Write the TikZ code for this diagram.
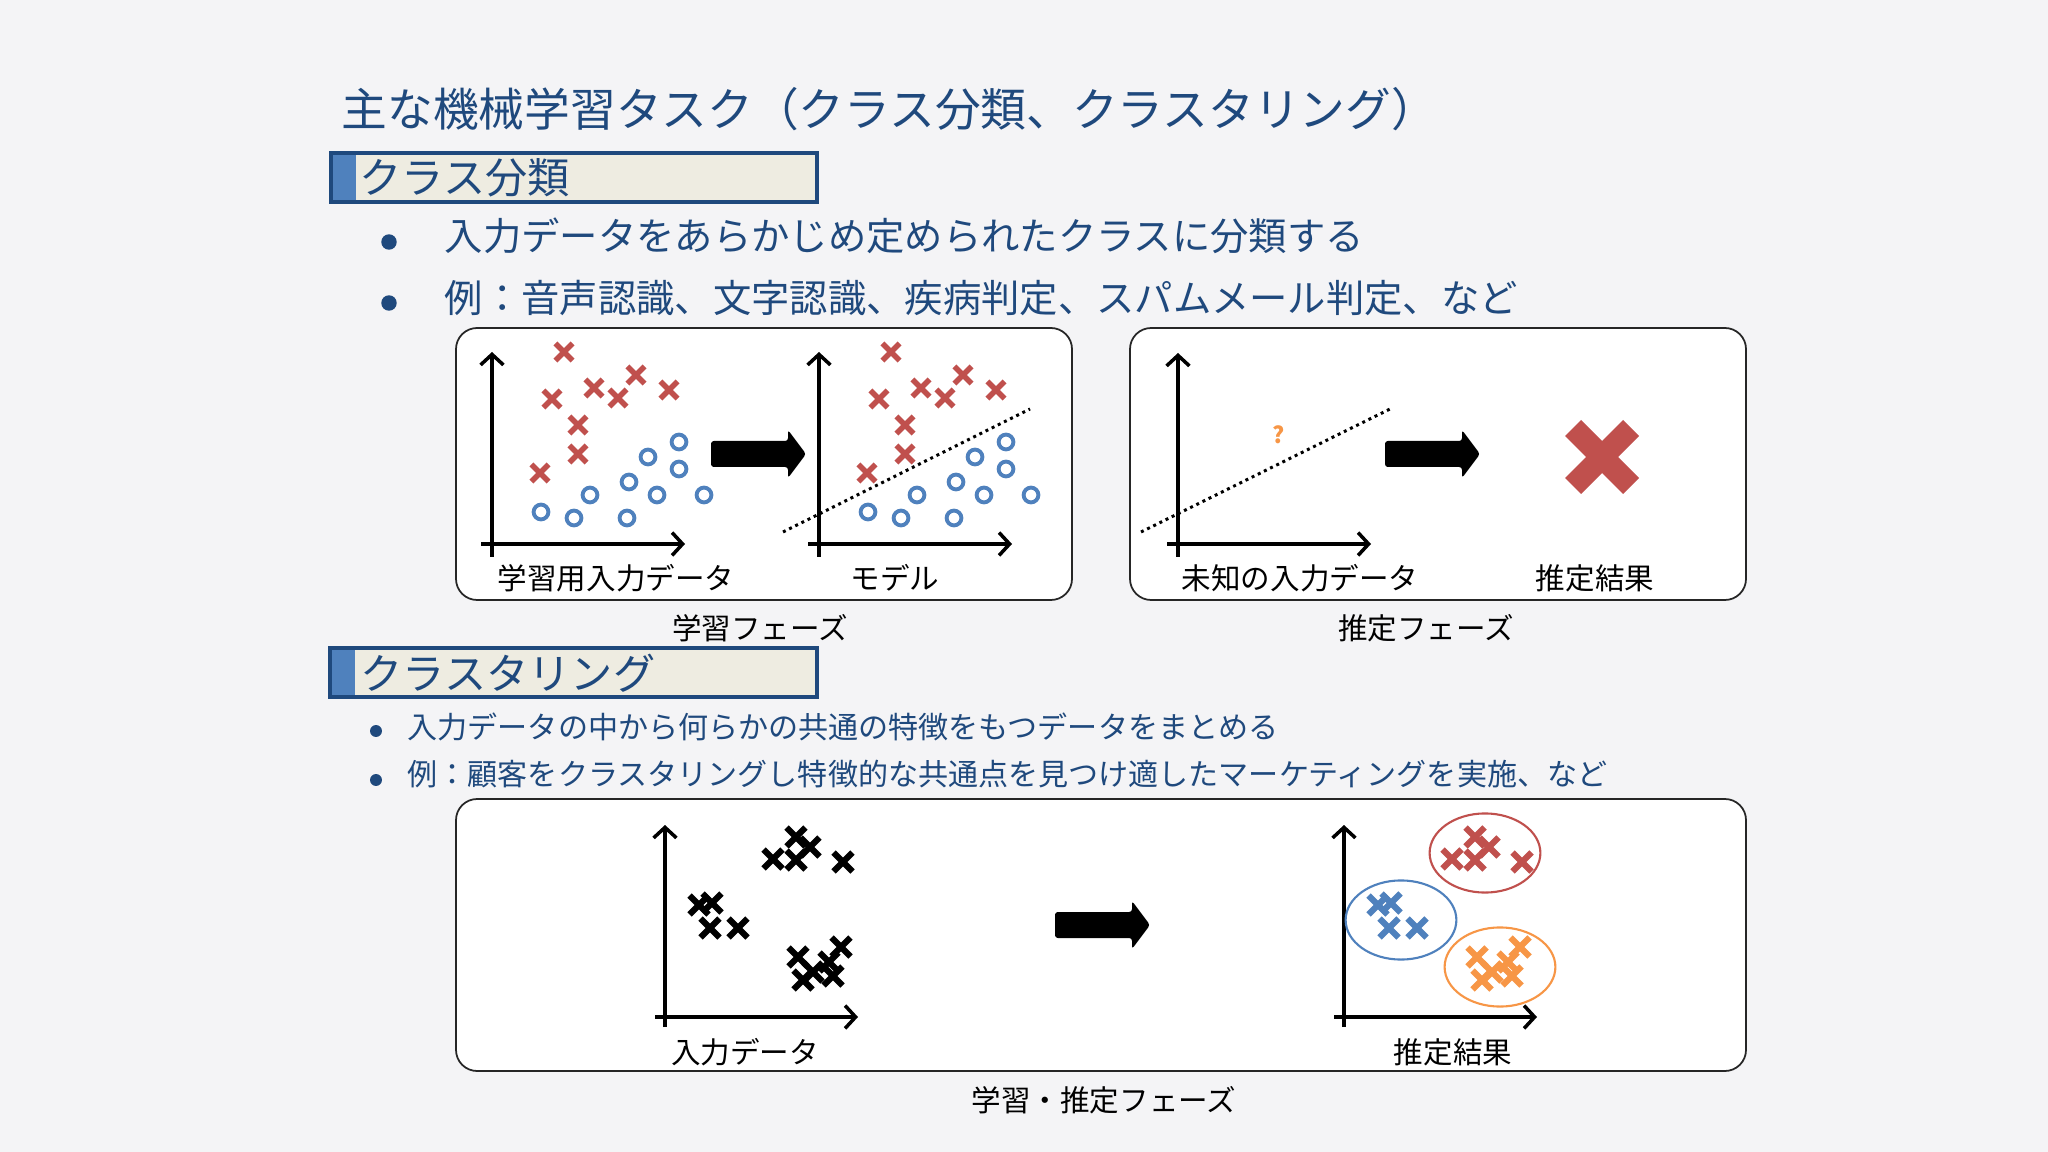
\documentclass[tikz,border=0pt]{standalone}
\usepackage{fontspec}
\setmainfont{Noto Sans CJK JP}
\usetikzlibrary{shapes.misc,shapes.geometric,arrows.meta,positioning,fit}
\definecolor{slidebg}{RGB}{244,244,246}
\definecolor{navy}{RGB}{31,73,125}
\definecolor{barblue}{RGB}{79,129,189}
\definecolor{cream}{RGB}{238,236,225}
\definecolor{xred}{RGB}{192,80,77}
\definecolor{oblue}{RGB}{79,129,189}
\definecolor{xorange}{RGB}{247,150,70}
\tikzset{panel/.style={draw=black!85, line width=0.5pt, fill=white, rounded corners=6pt, inner sep=0}}
\tikzset{head box/.style={draw=navy, line width=0.9pt, fill=cream, inner sep=0, path picture={\fill[barblue] (path picture bounding box.north west) rectangle ([xshift=7pt]path picture bounding box.south west);}}}
\tikzset{head text/.style={anchor=west, inner sep=0, text=navy, font=\fontsize{12}{14}\selectfont}}
\tikzset{item text/.style={anchor=west, inner sep=0, text=navy, font=\fontsize{10.9}{13}\selectfont}}
\tikzset{small item text/.style={anchor=west, inner sep=0, text=navy, font=\fontsize{8.55}{10}\selectfont}}
\tikzset{item dot/.style={circle, fill=navy, inner sep=0, minimum size=4.4pt}}
\tikzset{small item dot/.style={circle, fill=navy, inner sep=0, minimum size=3.4pt}}
\tikzset{caption/.style={inner sep=0, font=\fontsize{8.4}{10}\selectfont}}
\tikzset{axis/.style={line width=1pt, -{Straight Barb[length=3pt,width=6.5pt]}}}
\tikzset{xmark/.style={cross out, draw=#1, line width=1.6pt, minimum size=3.3pt, inner sep=0}}
\tikzset{omark/.style={circle, draw=oblue, line width=1.1pt, minimum size=4.2pt, inner sep=0}}
\tikzset{fat xmark/.style={cross out, draw=#1, line width=1.8pt, minimum size=3.6pt, inner sep=0}}
\tikzset{cluster/.style={ellipse, draw=#1, line width=0.6pt, minimum width=31.5pt, minimum height=22.5pt, inner sep=0}}
\tikzset{dotline/.style={line width=0.85pt, dash pattern=on 0.85pt off 1.1pt}}
\tikzset{pics/block arrow/.style={code={\fill[rounded corners=0.8pt] (0,-13) -- (77,-13) -- (77,-24) -- (95,0) -- (77,24) -- (77,13) -- (0,13) -- cycle;}}}
\begin{document}
\begin{tikzpicture}[x=0.01cm, y=-0.01cm]
\useasboundingbox (0,0) rectangle (2048,1152);
\fill[slidebg] (0,0) rectangle (2048,1152);

% title
\node[anchor=west, inner sep=0, text=navy, font=\fontsize{13}{15}\selectfont] (title) at (341,109) {主な機械学習タスク（クラス分類、クラスタリング）};

% classification
\node[head box, fit={(331,153) (817,202)}] (clshead) {};
\node[head text] (clsname) at (359,178) {クラス分類};
\node[item dot] (d1) at (389,242) {};
\node[item text] (t1) at (444,236) {入力データをあらかじめ定められたクラスに分類する};
\node[item dot] (d2) at (389,303) {};
\node[item text] (t2) at (444,298) {例：音声認識、文字認識、疾病判定、スパムメール判定、など};

\node[panel, fit={(456,328) (1072,600)}] (learn) {};
\node[panel, fit={(1130,328) (1746,600)}] (infer) {};

\foreach \dx/\g in {0/a,327/b}{
  \begin{scope}[shift={(\dx,0)}]
    \draw[axis] (481,544) -- (685,544);
    \draw[axis] (492,557) -- (492,352);
    \foreach \x/\y [count=\i] in {564/352,552/399,594/388,618/398,636/375,669/390,578/425,578/454,540/473}
      \node[xmark=xred] (\g x\i) at (\x,\y) {};
    \foreach \x/\y [count=\i] in {679/442,648/457,679/469,629/482,590/495,657/495,704/495,541/512,574/518,627/518}
      \node[omark] (\g o\i) at (\x,\y) {};
  \end{scope}
}
\draw[dotline] (783,532) -- (1030,409);
\pic at (711,454) {block arrow};
\node[caption] (cap1) at (616,578) {学習用入力データ};
\node[caption] (cap2) at (895,578) {モデル};
\node[caption] (learnph) at (760,628) {学習フェーズ};

% inference
\draw[axis] (1167,544) -- (1371,544);
\draw[axis] (1178,557) -- (1178,353);
\draw[dotline] (1141,532) -- (1390,409);
\node[inner sep=0, text=xorange, font=\bfseries\fontsize{6.5}{7}\selectfont] (unknown) at (1279,435) {?};
\pic at (1385,454) {block arrow};
\fill[xred, shift={(1602,457)}] (-21,-37) -- (0,-16) -- (21,-37) -- (37,-21) -- (16,0) -- (37,21)
  -- (21,37) -- (0,16) -- (-21,37) -- (-37,21) -- (-16,0) -- (-37,-21) -- cycle;
\node[caption] (cap3) at (1300,578) {未知の入力データ};
\node[caption] (cap4) at (1595,578) {推定結果};
\node[caption] (inferph) at (1426,628) {推定フェーズ};

% clustering
\node[head box, fit={(330,648) (817,697)}] (clhead) {};
\node[head text] (clname) at (360,673) {クラスタリング};
\node[small item dot] (d3) at (376,731) {};
\node[small item text] (t3) at (407,727) {入力データの中から何らかの共通の特徴をもつデータをまとめる};
\node[small item dot] (d4) at (376,780) {};
\node[small item text] (t4) at (407,774) {例：顧客をクラスタリングし特徴的な共通点を見つけ適したマーケティングを実施、など};

\node[panel, fit={(456,799) (1746,1071)}] (both) {};
\foreach \dx/\g/\ca/\cb/\cc in {0/l/black/black/black,679/r/xred/oblue/xorange}{
  \begin{scope}[shift={(\dx,0)}]
    \draw[axis] (655,1017) -- (858,1017);
    \draw[axis] (665,1027) -- (665,825);
    \foreach \x/\y [count=\i] in {796/837,810/847,796/860,773/859,843/862}
      \node[fat xmark=\ca] (\g a\i) at (\x,\y) {};
    \foreach \x/\y [count=\i] in {699/905,712/903,710/928,738/928}
      \node[fat xmark=\cb] (\g b\i) at (\x,\y) {};
    \foreach \x/\y [count=\i] in {798/957,841/947,829/962,813/972,803/980,833/976}
      \node[fat xmark=\cc] (\g c\i) at (\x,\y) {};
  \end{scope}
}
\node[cluster=xred] (redcl) at (1485,853) {};
\node[cluster=oblue] (bluecl) at (1401,920) {};
\node[cluster=xorange] (orangecl) at (1500,967) {};
\pic at (1055,925) {block arrow};
\node[caption] (cap5) at (745,1052) {入力データ};
\node[caption] (cap6) at (1453,1052) {推定結果};
\node[caption] (bothph) at (1104,1100) {学習・推定フェーズ};
\end{tikzpicture}
\end{document}
